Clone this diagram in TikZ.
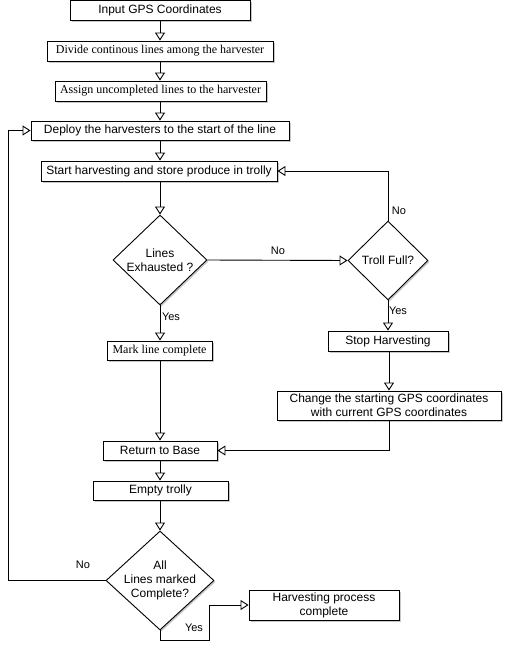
\documentclass[tikz,border=0pt]{standalone}
\usepackage{fontspec}
\setmainfont{Liberation Sans}
\newfontfamily\serifface{Liberation Serif}
\usetikzlibrary{arrows.meta,shapes.geometric,shadows}
\begin{document}
\begin{tikzpicture}[x=1pt,y=-1pt,
  shad/.style={drop shadow={shadow xshift=1.5pt, shadow yshift=-1.5pt, opacity=0.22, fill=black}},
  box/.style={draw, fill=white, line width=0.9pt, inner sep=0pt, align=center,
    font=\fontsize{12}{14}\selectfont, shad},
  sbox/.style={box, font=\serifface\fontsize{12}{14}\selectfont},
  dia/.style={diamond, draw, fill=white, line width=0.9pt, inner sep=0pt, shad},
  diatext/.style={align=center, inner sep=0pt, font=\fontsize{12}{14}\selectfont},
  lab/.style={inner sep=0pt, font=\fontsize{11}{13}\selectfont},
  arr/.style={draw, line width=0.9pt, -{Triangle[open, length=8pt, width=10pt]}},
  ln/.style={draw, line width=0.9pt}]
\useasboundingbox (0,0) rectangle (513,662);
\fill[white] (0,0) rectangle (513,662);

\node[box, minimum width=180, minimum height=20] (in) at (160,10) {Input GPS Coordinates};
\node[sbox, minimum width=226, minimum height=20] (div) at (160,51) {Divide continous lines among the harvester};
\node[sbox, minimum width=211, minimum height=20] (asg) at (160.5,91) {Assign uncompleted lines to the harvester};
\node[box, minimum width=258, minimum height=19] (dep) at (160,130.5) {Deploy the harvesters to the start of the line};
\node[box, minimum width=236, minimum height=20] (start) at (159,171) {Start harvesting and store produce in trolly};

\node[dia, minimum width=94, minimum height=90] (d1) at (160,260) {};
\node[diatext] (d1t) at (d1.center) {Lines\\Exhausted ?};
\node[dia, minimum width=80, minimum height=79] (d2) at (388,260.5) {};
\node[diatext] (d2t) at (d2.center) {Troll Full?};

\node[sbox, minimum width=105, minimum height=19] (mark) at (159.5,350.5) {Mark line complete};
\node[box, minimum width=120, minimum height=20] (stop) at (388,341) {Stop Harvesting};
\node[box, minimum width=224, minimum height=29] (chg) at (389,405.5) {Change the starting GPS coordinates\\with current GPS coordinates};
\node[box, minimum width=114, minimum height=19] (ret) at (160,450.5) {Return to Base};
\node[box, minimum width=135, minimum height=19] (empty) at (160.5,490.5) {Empty trolly};

\node[dia, minimum width=108, minimum height=99] (d3) at (160,580.5) {};
\node[diatext] (d3t) at (d3.center) {All\\Lines marked\\Complete?};
\node[box, minimum width=150, minimum height=30] (hpc) at (324,605) {Harvesting process\\complete};

\path[arr] (in.south) -- (div.north);
\path[arr] (div.south) -- (asg.north -| div.south);
\path[arr] (asg.south -| div.south) -- (dep.north -| div.south);
\path[arr] (dep.south) -- (start.north -| dep.south);
\path[arr] (start.south -| d1.north) -- (d1.north);
\path[arr] (d1.east) -- (d2.west);
\path[arr] (d2.north) |- (start.east);
\path[arr] (d2.south) -- (stop.north -| d2.south);
\path[arr] (d1.south) -- (mark.north -| d1.south);
\path[arr] (mark.south -| d1.south) -- (ret.north -| d1.south);
\path[arr] (stop.south -| chg.south) -- (chg.north);
\path[arr] (chg.south) |- (ret.east);
\path[arr] (ret.south) -- (empty.north -| ret.south);
\path[arr] (empty.south -| d3.north) -- (d3.north);
\path[arr] (d3.west) -- ++(-97,0) |- (dep.west);
\path[arr] (d3.south) -- ++(0,10) -- ++(49,0) |- (hpc.west);

\node[lab] (l1) at (278,251) {No};
\node[lab] (l2) at (399,211) {No};
\node[lab] (l3) at (398,311) {Yes};
\node[lab] (l4) at (171,317) {Yes};
\node[lab] (l5) at (83,565) {No};
\node[lab] (l6) at (194,628) {Yes};
\end{tikzpicture}
\end{document}
